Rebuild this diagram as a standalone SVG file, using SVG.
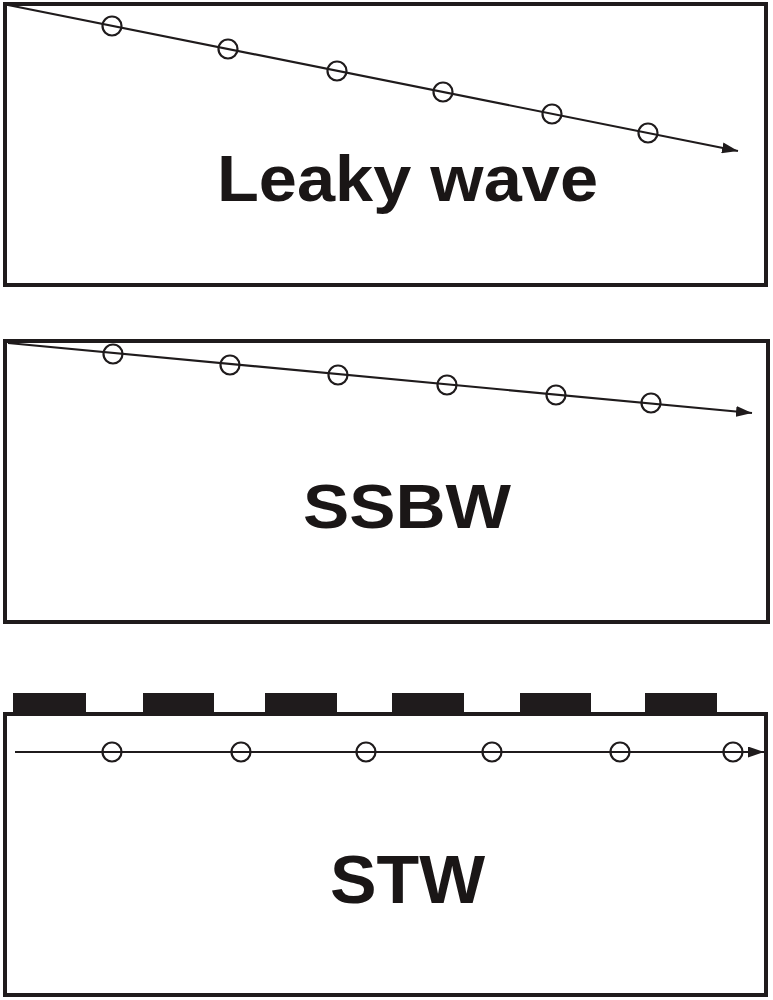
<svg xmlns="http://www.w3.org/2000/svg" width="773" height="1000" viewBox="0 0 773 1000">
  <style>
    .panel { fill: #ffffff; stroke: #1f1b1c; stroke-width: 4; }
    .wave { fill: none; stroke: #1f1b1c; stroke-width: 2.2; }
    .dot { fill: none; stroke: #1f1b1c; stroke-width: 2.2; }
    .label { font-family: "Liberation Sans", Arial, sans-serif; font-weight: bold; fill: #1a1616; }
    .electrode { fill: #1f1b1c; }
  </style>
  <defs>
    <marker id="arrow" viewBox="0 0 16 11" refX="16" refY="5.5" markerWidth="16" markerHeight="11" markerUnits="userSpaceOnUse" orient="auto">
      <path d="M0,0 L16,5.5 L0,11 Z" fill="#1f1b1c"/>
    </marker>
  </defs>
  <rect width="773" height="1000" fill="#ffffff"/>

  <g id="panel-leaky">
    <rect class="panel" x="5" y="4" width="761" height="281"/>
    <text class="label" x="217" y="201" font-size="64" textLength="381" lengthAdjust="spacingAndGlyphs">Leaky wave</text>
  </g>

  <g id="panel-ssbw">
    <rect class="panel" x="5" y="341" width="763" height="281"/>
    <text class="label" x="303" y="528" font-size="63" textLength="208" lengthAdjust="spacingAndGlyphs">SSBW</text>
  </g>

  <g id="panel-stw">
    <rect class="panel" x="5" y="714" width="761" height="281"/>
    <rect class="electrode" x="13" y="693" width="73" height="20"/>
    <rect class="electrode" x="143" y="693" width="71" height="20"/>
    <rect class="electrode" x="265" y="693" width="72" height="20"/>
    <rect class="electrode" x="392" y="693" width="72" height="20"/>
    <rect class="electrode" x="520" y="693" width="71" height="20"/>
    <rect class="electrode" x="645" y="693" width="72" height="20"/>
    <text class="label" x="330" y="903" font-size="68" textLength="155" lengthAdjust="spacingAndGlyphs">STW</text>
  </g>

  <g id="connectors">
    <line class="wave" x1="8" y1="5" x2="738" y2="151" marker-end="url(#arrow)"/>
    <line class="wave" x1="8" y1="343" x2="752" y2="413" marker-end="url(#arrow)"/>
    <line class="wave" x1="15" y1="752" x2="764" y2="752" marker-end="url(#arrow)"/>
  </g>

  <g id="particles-leaky">
    <circle class="dot" cx="112" cy="26" r="9.5"/>
    <circle class="dot" cx="228" cy="49" r="9.5"/>
    <circle class="dot" cx="337" cy="71" r="9.5"/>
    <circle class="dot" cx="443" cy="92" r="9.5"/>
    <circle class="dot" cx="552" cy="114" r="9.5"/>
    <circle class="dot" cx="648" cy="133" r="9.5"/>
  </g>
  <g id="particles-ssbw">
    <circle class="dot" cx="113" cy="354" r="9.5"/>
    <circle class="dot" cx="230" cy="365" r="9.5"/>
    <circle class="dot" cx="338" cy="375" r="9.5"/>
    <circle class="dot" cx="447" cy="385" r="9.5"/>
    <circle class="dot" cx="556" cy="395" r="9.5"/>
    <circle class="dot" cx="651" cy="403" r="9.5"/>
  </g>
  <g id="particles-stw">
    <circle class="dot" cx="112" cy="752" r="9.5"/>
    <circle class="dot" cx="241" cy="752" r="9.5"/>
    <circle class="dot" cx="366" cy="752" r="9.5"/>
    <circle class="dot" cx="492" cy="752" r="9.5"/>
    <circle class="dot" cx="620" cy="752" r="9.5"/>
    <circle class="dot" cx="733" cy="752" r="9.5"/>
  </g>
</svg>
